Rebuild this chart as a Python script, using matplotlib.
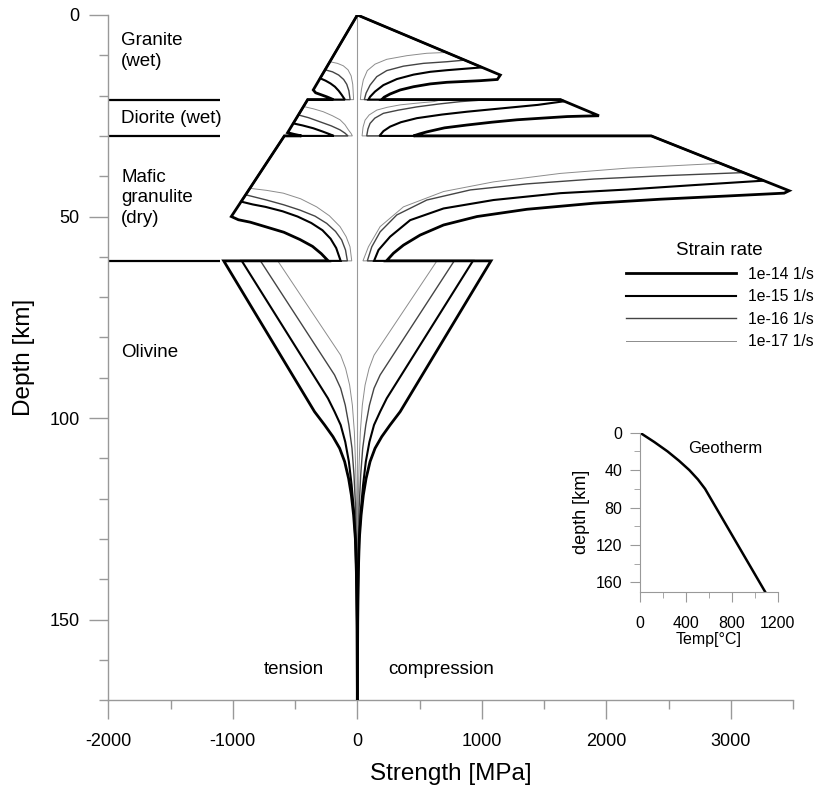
import matplotlib
matplotlib.use('Agg')
import matplotlib.pyplot as plt
from matplotlib.ticker import MultipleLocator
from matplotlib.lines import Line2D

plt.rcParams['font.family'] = ['Liberation Sans', 'DejaVu Sans']
plt.rcParams['axes.unicode_minus'] = False

# strain rates
rates = ['1e-14 1/s', '1e-15 1/s', '1e-16 1/s', '1e-17 1/s']

# crust envelopes: (depth km, strength MPa)
comp_14 = [(0, 0), (14.9, 1148), (16.0, 1124), (16.3, 987), (16.5, 855), (16.7, 719), (17.1, 585), (17.8, 451),
           (18.6, 344), (19.6, 263), (20.4, 215), (21, 196),
           (21, 1631), (25.0, 1940), (25.1, 1800), (25.2, 1685), (25.6, 1480), (26.0, 1282), (26.6, 1080),
           (27.3, 880), (28.0, 700), (29.0, 558), (29.5, 500), (30, 451),
           (30, 2360), (43.6, 3467), (44.2, 3427), (44.9, 2972), (45.7, 2435), (46.7, 1899), (48.2, 1362),
           (50.0, 961), (52.1, 692), (54.6, 504), (57.1, 370), (59.1, 290), (61, 234)]
comp_15 = [(0, 0), (13.0, 1001), (13.3, 880), (13.7, 719), (14.1, 585), (14.8, 451), (15.9, 317), (17.4, 209),
           (19.0, 142), (20.3, 102), (21, 89),
           (21, 1631), (21.4, 1662), (22.3, 1450), (22.8, 1282), (23.4, 1080), (24.0, 880), (24.7, 680),
           (25.6, 478), (26.6, 350), (27.7, 263), (28.8, 210), (30, 177),
           (30, 2360), (41.1, 3264), (42.2, 2703), (43.3, 2167), (44.2, 1631), (45.9, 1094), (48.0, 692),
           (50.9, 424), (55.0, 263), (58.3, 170), (61, 134)]
comp_16 = [(0, 0), (11.2, 862), (11.6, 719), (12.0, 531), (12.7, 370), (13.8, 236), (15.3, 156), (17.4, 102),
           (19.4, 70), (21, 56),
           (21, 1050), (21.5, 826), (22.1, 650), (22.8, 478), (23.6, 330), (24.4, 209), (25.6, 140),
           (26.9, 102), (28.3, 85), (30, 75),
           (30, 2360), (39.1, 3101), (39.9, 2435), (40.7, 1899), (41.9, 1362), (43.4, 907), (45.9, 558),
           (49.6, 317), (53.8, 183), (57.5, 116), (61, 80)]
comp_17 = [(0, 0), (9.3, 716), (9.5, 558), (10.1, 397), (11.0, 236), (12.2, 142), (13.8, 80), (16.1, 48),
           (18.6, 32), (21, 24),
           (21, 680), (21.5, 612), (21.9, 470), (22.3, 344), (22.9, 240), (23.6, 156), (24.8, 95),
           (26.1, 62), (27.8, 46), (30, 38),
           (30, 2360), (36.8, 2914), (38.0, 2167), (39.3, 1631), (41.4, 1094), (43.8, 692), (47.6, 370),
           (52.5, 183), (57.5, 89), (61, 45)]

tens_14 = [(0, 0), (18.6, -354), (19.3, -335), (19.8, -290), (20.3, -246), (20.7, -215), (21, -193),
           (21, -399), (29.2, -560), (29.6, -510), (30, -449),
           (30, -586), (50.0, -1012), (50.8, -955), (51.4, -860), (52.6, -730), (53.9, -590), (55.7, -461),
           (57.4, -360), (59.2, -290), (61, -234)]
tens_15 = [(0, 0), (15.7, -299), (16.3, -255), (17.0, -215), (17.8, -180), (18.8, -150), (19.8, -126),
           (21, -100),
           (21, -399), (26.9, -514), (27.4, -440), (28.1, -354), (28.9, -280), (29.6, -220), (30, -189),
           (30, -586), (46.3, -933), (47.0, -840), (47.6, -738), (48.7, -600), (50.0, -480), (51.6, -370),
           (53.4, -280), (55.5, -215), (57.8, -170), (61, -134)]
tens_16 = [(0, 0), (13.6, -259), (14.1, -200), (14.9, -150), (16.0, -110), (17.2, -85), (18.8, -68),
           (21, -58),
           (21, -399), (24.8, -473), (25.5, -390), (26.5, -300), (27.5, -210), (28.5, -139), (29.3, -100),
           (30, -75),
           (30, -586), (44.6, -897), (45.2, -820), (45.9, -730), (47.1, -590), (48.4, -461), (49.9, -340),
           (51.7, -246), (53.7, -175), (55.8, -126), (58.3, -95), (61, -80)]
tens_17 = [(0, 0), (11.6, -221), (12.0, -160), (12.6, -113), (13.6, -75), (15.1, -50), (17.2, -37),
           (21, -30),
           (21, -399), (22.7, -432), (23.3, -350), (24, -274), (25, -200), (26, -139), (27.2, -100),
           (28.5, -72), (29.4, -50), (30, -40),
           (30, -586), (43.0, -863), (43.5, -730), (44.2, -595), (45.6, -455), (47.6, -327), (49.8, -225),
           (52.5, -139), (55.0, -90), (57.5, -59), (61, -45)]

# olivine mantle, same magnitude in tension and compression
oliv_14 = [(61, 1073), (98.4, 344), (101.7, 263), (104.6, 196), (107.5, 142), (110.8, 102), (115.0, 70),
           (119.1, 48), (124.1, 30), (129.9, 16), (138.1, 8), (150.5, 3), (170, 0)]
oliv_15 = [(61, 928), (95.1, 236), (98.4, 183), (101.7, 134), (105.9, 97), (110.8, 68), (116.6, 46),
           (123.2, 27), (131.5, 14), (142.3, 6), (158.8, 0), (170, 0)]
oliv_16 = [(61, 778), (89.3, 183), (92.6, 134), (96.8, 97), (101.7, 68), (107.5, 43), (114.1, 27),
           (122.4, 14), (134, 6), (150.5, 0), (170, 0)]
oliv_17 = [(61, 639), (84.4, 134), (87.7, 94), (91.8, 62), (96.8, 40), (103.4, 24), (111.7, 14),
           (122.4, 6), (138.1, 0), (170, 0)]

layer_tops = [21, 30, 61]
layer_names = ['Granite\n(wet)', 'Diorite (wet)', 'Mafic\ngranulite\n(dry)', 'Olivine']
layer_label_depth = [9.0, 25.6, 45.4, 83.8]

# geotherm for the inset
geo_temp = [0, 125, 240, 340, 430, 505, 567, 1090]
geo_depth = [0, 10, 20, 30, 40, 50, 60, 170]

comp = [comp_14, comp_15, comp_16, comp_17]
tens = [tens_14, tens_15, tens_16, tens_17]
oliv = [oliv_14, oliv_15, oliv_16, oliv_17]
styles = [dict(color='black', lw=2.0), dict(color='black', lw=1.5),
          dict(color='#444444', lw=1.0), dict(color='#8c8c8c', lw=0.7)]

fig = plt.figure(figsize=(8.14, 7.92), dpi=100)
ax = fig.add_axes([0.1330, 0.1158, 0.8415, 0.8653])

ax.axvline(0, color='#999999', lw=0.8, zorder=1)

# thinnest first so the thick curves sit on top
for i in [3, 2, 1, 0]:
    c = comp[i] + oliv[i]
    t = tens[i] + [(z, -s) for z, s in oliv[i]]
    for curve in (c, t):
        ax.plot([p[1] for p in curve], [p[0] for p in curve], solid_joinstyle='miter',
                zorder=2 + (3 - i), **styles[i])

handles = [Line2D([], [], **st) for st in styles]

ax.hlines(layer_tops, -2000, -1100, color='black', lw=1.6)
for name, z in zip(layer_names, layer_label_depth):
    ax.text(-1895, z, name, fontsize=13.5, ha='left', va='center', linespacing=1.3)

ax.text(-511, 162.3, 'tension', fontsize=13.5, ha='center', va='center')
ax.text(673, 162.3, 'compression', fontsize=13.5, ha='center', va='center')

ax.set_xlim(-2000, 3500)
ax.set_ylim(170, 0)
ax.xaxis.set_major_locator(MultipleLocator(1000))
ax.xaxis.set_minor_locator(MultipleLocator(500))
ax.yaxis.set_major_locator(MultipleLocator(50))
ax.yaxis.set_minor_locator(MultipleLocator(10))
for s in ['top', 'right']:
    ax.spines[s].set_visible(False)
for s in ['left', 'bottom']:
    ax.spines[s].set_color('#999999')
    ax.spines[s].set_linewidth(1.0)
ax.tick_params(which='major', length=13.7, color='#999999', width=1.0, labelsize=13)
ax.tick_params(which='minor', length=6.8, color='#999999', width=1.0)
ax.tick_params(axis='x', which='major', pad=10)
ax.tick_params(axis='y', which='major', pad=7)
ax.set_xlabel('Strength [MPa]', fontsize=17.5, labelpad=9)
ax.set_ylabel('Depth [km]', fontsize=17.5, labelpad=10)

ax.legend(handles, rates, loc='upper left', bbox_to_anchor=(626 / 814, 1 - 242 / 792),
          bbox_transform=fig.transFigure, frameon=False, fontsize=11.3, title='Strain rate',
          title_fontsize=13.5, handlelength=7.0, handletextpad=0.75, labelspacing=0.48,
          borderpad=0, borderaxespad=0)

# inset with the geotherm
ins = fig.add_axes([0.7862, 0.2529, 0.1692, 0.2008])
ins.plot(geo_temp, geo_depth, color='black', lw=1.8)
ins.set_xlim(0, 1200)
ins.set_ylim(170, 0)
ins.set_xticks([0, 400, 800, 1200])
ins.set_xticks([200, 600, 1000], minor=True)
ins.set_yticks([0, 40, 80, 120, 160])
ins.set_yticks([20, 60, 100, 140], minor=True)
for s in ['top', 'right']:
    ins.spines[s].set_visible(False)
for s in ['left', 'bottom']:
    ins.spines[s].set_color('#999999')
ins.tick_params(which='major', length=7.5, color='#999999', labelsize=11.5)
ins.tick_params(which='minor', length=4.5, color='#999999')
ins.tick_params(axis='x', pad=10)
ins.tick_params(axis='y', pad=5)
ins.set_xlabel('Temp[°C]', fontsize=11.5, labelpad=1)
ins.set_ylabel('depth [km]', fontsize=13, labelpad=4)
ins.text(418, 16.4, 'Geotherm', fontsize=12, ha='left', va='center')
ins.patch.set_alpha(0)

fig.savefig('out.png', dpi=100)
